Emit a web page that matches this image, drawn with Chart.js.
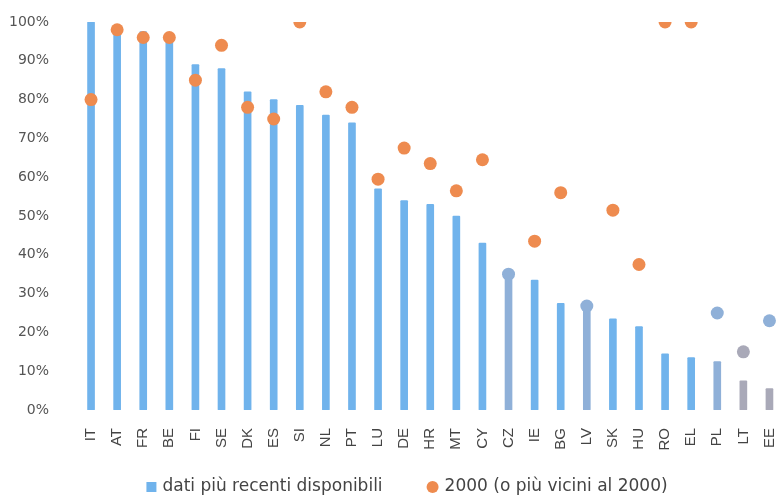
<!DOCTYPE html>
<html lang="it">
  <head>
    <meta charset="UTF-8" />
    <title>Confronto 2000</title>
    <style>
      html, body { margin: 0; padding: 0; background: #fff; overflow: hidden; }
      /* a little wider than the window: the last bar sits right on the edge */
      #wrap { width: 789px; height: 497px; }
    </style>
  </head>
  <body>
    <div id="wrap"><canvas id="myChart"></canvas></div>
    <script src="https://cdn.jsdelivr.net/npm/chart.js"></script>
    <script>
      const categories = ["IT", "AT", "FR", "BE", "FI", "SE", "DK", "ES", "SI", "NL", "PT", "LU", "DE", "HR", "MT", "CY", "CZ", "IE", "BG", "LV", "SK", "HU", "RO", "EL", "PL", "LT", "EE"];
      // dati più recenti disponibili (%)
      const recentValues = [100, 98, 97.5, 96, 89, 88, 82, 80, 78.5, 76, 74, 57, 54, 53, 50, 43, 35, 33.5, 27.5, 26.8, 23.5, 21.5, 14.5, 13.5, 12.5, 7.5, 5.5];
      // 2000 (o più vicini al 2000) (%)
      const year2000Values = [80, 98, 96, 96, 85, 94, 78, 75, 100, 82, 78, 59.5, 67.5, 63.5, 56.5, 64.5, 35, 43.5, 56, 26.8, 51.5, 37.5, 100, 100, 25, 15, 23];
      const yTicks = [0, 10, 20, 30, 40, 50, 60, 70, 80, 90, 100];
      const seriesNames = ["dati più recenti disponibili", "2000 (o più vicini al 2000)"];

      // countries drawn in muted colours
      const mutedBlue = ["CZ", "LV", "PL", "EE"];
      const mutedGrey = ["LT"];
      const greyBars = ["LT", "EE"];

      const BLUE = "#70b3ec";
      const ORANGE = "#ee8b4f";
      const STEEL = "#8fb0d8";
      const GREY = "#a9a9b8";

      const barColors = categories.map((c) => {
        if (greyBars.includes(c)) return GREY;
        if (mutedBlue.includes(c)) return STEEL;
        return BLUE;
      });
      const dotColors = categories.map((c) => {
        if (mutedGrey.includes(c)) return GREY;
        if (mutedBlue.includes(c)) return STEEL;
        return ORANGE;
      });

      // legend drawn by hand: the items sit far apart in the original
      const bottomLegend = {
        id: "bottomLegend",
        afterDraw: (chart) => {
          const c = chart.ctx;
          c.save();
          c.font = "17px 'DejaVu Sans', sans-serif";
          c.textBaseline = "middle";
          const w1 = c.measureText(seriesNames[0]).width;
          const w2 = c.measureText(seriesNames[1]).width;
          const total = 10 + 6 + w1 + 45 + 12 + 6 + w2;
          const y = 487;
          let x = (779 - total) / 2 + 18;
          c.fillStyle = BLUE;
          c.fillRect(x, y - 5, 10, 10);
          x += 16;
          c.fillStyle = "#444";
          c.fillText(seriesNames[0], x, y);
          x += w1 + 44;
          c.fillStyle = ORANGE;
          c.beginPath();
          c.arc(x + 6, y, 6, 0, Math.PI * 2);
          c.fill();
          x += 18;
          c.fillStyle = "#444";
          c.fillText(seriesNames[1], x, y);
          c.restore();
        },
      };

      const ctx = document.getElementById("myChart").getContext("2d");
      Chart.defaults.font.family = "'DejaVu Sans', sans-serif";
      Chart.defaults.color = "#555";

      new Chart(ctx, {
        type: "bar",
        plugins: [bottomLegend],
        data: {
          labels: categories,
          datasets: [
            {
              type: "line",
              label: seriesNames[1],
              data: year2000Values,
              showLine: false,
              pointRadius: 6.5,
              pointHoverRadius: 6.5,
              pointBackgroundColor: dotColors,
              pointBorderWidth: 0,
              borderColor: ORANGE,
              backgroundColor: ORANGE,
              order: 0,
            },
            {
              label: seriesNames[0],
              data: recentValues,
              backgroundColor: barColors,
              barThickness: 7,
              borderRadius: 1,
              borderSkipped: false,
              order: 1,
            },
          ],
        },
        options: {
          responsive: true,
          maintainAspectRatio: false,
          animation: false,
          layout: { padding: { top: 22, right: 0, left: 0, bottom: 37 } },
          scales: {
            x: {
              grid: { display: false },
              border: { display: false },
              ticks: {
                minRotation: 90,
                maxRotation: 90,
                autoSkip: false,
                color: "#444",
                font: { family: "'Liberation Sans', sans-serif", size: 15 },
                padding: 10,
              },
              afterFit: (axis) => {
                axis.height = 50;
                axis.paddingLeft = 0;
                axis.paddingRight = 0;
              },
            },
            y: {
              min: 0,
              max: 100,
              grid: { display: false },
              border: { display: false },
              afterBuildTicks: (axis) => { axis.ticks = yTicks.map((v) => ({ value: v })); },
              ticks: {
                callback: (v) => v + "%",
                color: "#555",
                font: { size: 14 },
                padding: 21,
              },
              afterFit: (axis) => {
                axis.width = 78;
                axis.paddingTop = 0;
                axis.paddingBottom = 0;
              },
            },
          },
          plugins: {
            tooltip: { enabled: false },
            legend: { display: false },
          },
        },
      });
    </script>
  </body>
</html>
